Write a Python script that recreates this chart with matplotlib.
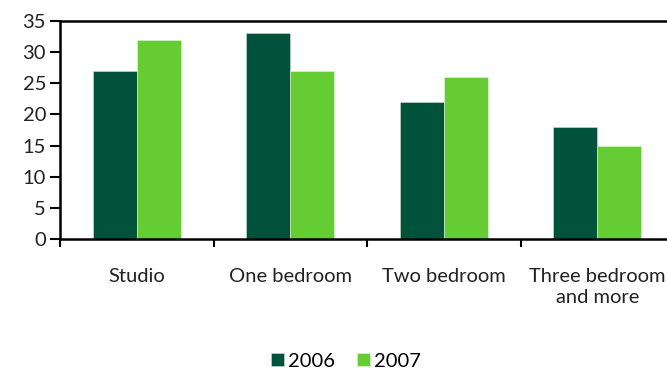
import numpy as np
import matplotlib.pyplot as plt

# 数据
categories = ['Studio', 'One bedroom', 'Two bedroom', 'Three bedroom\nand more']
values_2006 = [27, 33, 22, 18]
values_2007 = [32, 27, 26, 15]
years = ['2006', '2007']

plt.rcParams['font.family'] = ['Lato', 'DejaVu Sans']

fig = plt.figure(figsize=(6.67, 3.71), dpi=100)
ax = fig.add_axes([60 / 667, 1 - 239 / 371, 614 / 667, 218 / 371])

x = np.arange(len(categories))
w = 0.287
ax.bar(x - w / 2, values_2006, width=w, color='#00533a', edgecolor='#cfe3d8', linewidth=0.4, label=years[0])
ax.bar(x + w / 2, values_2007, width=w, color='#66cc33', edgecolor='#e4f5dc', linewidth=0.4, label=years[1])

ax.set_xlim(-0.5, len(categories) - 0.5)
ax.set_ylim(0, 35)
ax.set_yticks(np.arange(0, 36, 5))
ax.tick_params(axis='y', direction='out', length=7, width=1.5, labelsize=14.5, pad=3)

# x轴刻度放在分组边界
ax.set_xticks(np.arange(len(categories) + 1) - 0.5)
ax.set_xticklabels([])
ax.set_xticks(x, minor=True)
ax.set_xticklabels(categories, minor=True, fontsize=14.5, color='#222222', linespacing=1.3)
ax.tick_params(axis='x', which='major', direction='out', length=6, width=1.5)
ax.tick_params(axis='x', which='minor', length=0, pad=21)

for s in ['left', 'bottom', 'top']:
    ax.spines[s].set_linewidth(1.8)
ax.spines['right'].set_visible(False)

for lab in ax.get_yticklabels():
    lab.set_color('#222222')

ax.legend(loc='center', bbox_to_anchor=(0.466, -0.56), ncol=2, frameon=False,
          fontsize=14.5, handlelength=0.65, handleheight=0.65, handletextpad=0.2,
          columnspacing=1.1, borderpad=0.1)

fig.savefig('out.png', dpi=100)
